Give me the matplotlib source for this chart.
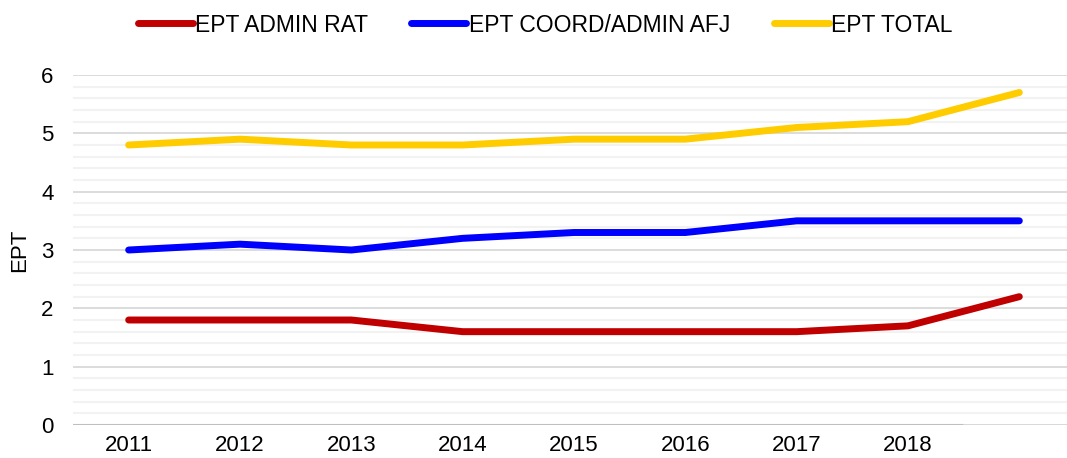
import numpy as np
import matplotlib.pyplot as plt
from matplotlib.ticker import MultipleLocator

plt.rcParams['font.family'] = ['Liberation Sans', 'DejaVu Sans']

years = ['2011', '2012', '2013', '2014', '2015', '2016', '2017', '2018', '']
admin_rat = [1.8, 1.8, 1.8, 1.6, 1.6, 1.6, 1.6, 1.7, 2.2]
coord_afj = [3.0, 3.1, 3.0, 3.2, 3.3, 3.3, 3.5, 3.5, 3.5]
total = [4.8, 4.9, 4.8, 4.8, 4.9, 4.9, 5.1, 5.2, 5.7]

names = ['EPT ADMIN RAT', 'EPT COORD/ADMIN AFJ', 'EPT TOTAL']
colors = ['#C00000', '#0000FF', '#FFCC00']

fig = plt.figure(figsize=(10.67, 4.58), dpi=100)
# plot area: left 73px, 111px per category, y from 75px to 425px
ax = fig.add_axes([73/1067, 33/458, 1002/1067, 350/458])

x = np.arange(len(years))
for vals, name, c in zip([admin_rat, coord_afj, total], names, colors):
    ax.plot(x, vals, color=c, lw=5, solid_capstyle='round', label=name)

ax.set_xlim(-0.5, 8.5)
ax.set_ylim(0, 6)
ax.set_xticks(x)
ax.set_xticklabels(years)
ax.yaxis.set_major_locator(MultipleLocator(1))
ax.yaxis.set_minor_locator(MultipleLocator(0.2))
ax.grid(axis='y', which='major', color='#d9d9d9', lw=1.3, zorder=0)
ax.grid(axis='y', which='minor', color='#f2f2f2', lw=1.5, zorder=0)
ax.set_axisbelow(True)
for s in ax.spines.values():
    s.set_visible(False)
ax.axhline(0, xmin=0, xmax=8/9, color='#bfbfbf', lw=1.5, zorder=1)
ax.axhline(0, xmin=8/9, xmax=1, color='#d9d9d9', lw=1.3, zorder=1)
ax.tick_params(axis='both', which='both', length=0, labelsize=16, colors='#000000')
ax.tick_params(axis='x', pad=7)
ax.tick_params(axis='y', pad=14)
ax.set_ylabel('EPT', fontsize=16)
ax.yaxis.set_label_coords(-0.043, 0.5)

fig.legend(loc='center', bbox_to_anchor=(545/1067, 1 - 25/458), ncol=3, frameon=False,
           fontsize=16.5, handlelength=2.4, handletextpad=0.1, columnspacing=1.9)

fig.savefig('out.png', dpi=100)
